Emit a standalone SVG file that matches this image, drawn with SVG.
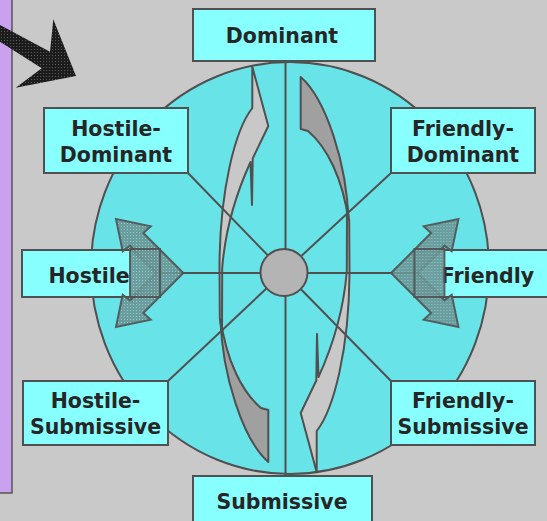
<svg xmlns="http://www.w3.org/2000/svg" xmlns:xlink="http://www.w3.org/1999/xlink" width="547" height="521" viewBox="0 0 547 521">
<style>
.box{fill:#88FFFF;stroke:#505050;stroke-width:2}
.lbl{font-family:"DejaVu Sans",Verdana,sans-serif;font-weight:bold;font-size:20.5px;fill:#262626;text-anchor:middle}
.ln{stroke:#505050;stroke-width:2;fill:none}
.dark{fill:#A0A0A0;stroke:#505050;stroke-width:2;stroke-linejoin:round}
.light{fill:#C8C8C8;stroke:#505050;stroke-width:2;stroke-linejoin:round}
.chev{fill:url(#hatch);stroke:#505050;stroke-width:2;stroke-linejoin:miter;opacity:0.9}
</style>
<defs>
<pattern id="dots" width="3" height="3" patternUnits="userSpaceOnUse"><rect width="3" height="3" fill="#1c1c1c"/><rect x="1" y="1" width="1" height="1" fill="#5a5a5a"/></pattern>
<pattern id="hatch" width="3" height="3" patternUnits="userSpaceOnUse"><rect width="3" height="3" fill="#6a9696"/><rect x="1" y="1" width="1" height="1" fill="#9cc2c2"/></pattern>
<g id="cyc">
<path class="dark" d="M 220.5,318 C 222,375 243,440 268.3,462 L 268.3,410 L 261,408 C 242,392 226,360 220.5,318 Z"/>
<path class="light" d="M 252.3,66.7 L 268.3,126 L 252.7,158.5 L 252,205 L 250.5,162 C 240,185 226,220 222.2,268 L 222,335 L 219.8,318 L 219.5,265 C 220,190 235,130 252.3,108 Z"/>
</g>
<g id="chevH">
<polygon class="chev" points="183.3,273 143.3,233 150.7,226.3 116,219 122.7,251.3 130,245.7 157.3,273 130,300.3 122.7,294.7 116,327 150.7,319.7 143.3,313"/>
<rect class="chev" x="130" y="249" width="30" height="48"/>
</g>
</defs>
<rect width="547" height="521" fill="#C9C9C9"/>
<rect x="-2" y="-2" width="14" height="495" fill="#C9A1EF" stroke="#555" stroke-width="1.5"/>
<polygon id="pointer" points="0,25 50,51.7 53.3,19.3 76,76 15.7,87.7 41.7,68.3 0,41.7" fill="url(#dots)"/>
<ellipse id="wheel" cx="290" cy="268" rx="199" ry="206" fill="#68E4E8" stroke="#505050" stroke-width="2"/>
<g id="cycle-arrows">
<use href="#cyc"/>
<use href="#cyc" transform="rotate(180 284.5 269.5)"/>
</g>
<g id="connectors">
<line class="ln" x1="285.5" y1="61" x2="285.5" y2="476"/>
<line class="ln" x1="160" y1="273" x2="418" y2="273"/>
<line class="ln" x1="188" y1="173" x2="284" y2="272"/>
<line class="ln" x1="391" y1="173" x2="284" y2="272"/>
<line class="ln" x1="168" y1="381" x2="284" y2="272"/>
<line class="ln" x1="391" y1="381" x2="284" y2="272"/>
</g>
<g id="center"><circle cx="284" cy="272.5" r="23.5" fill="#B4B4B4" stroke="#505050" stroke-width="2"/></g>
<g id="dominant"><rect class="box" x="193" y="9" width="182" height="52"/><text class="lbl" x="282" y="43">Dominant</text></g>
<g id="hostile-dominant"><rect class="box" x="44" y="108" width="144" height="65"/><text class="lbl" x="116" y="136">Hostile-</text><text class="lbl" x="116" y="162">Dominant</text></g>
<g id="friendly-dominant"><rect class="box" x="391" y="108" width="144" height="65"/><text class="lbl" x="463" y="136">Friendly-</text><text class="lbl" x="463" y="162">Dominant</text></g>
<g id="hostile-submissive"><rect class="box" x="23" y="381" width="145" height="64"/><text class="lbl" x="95.5" y="408">Hostile-</text><text class="lbl" x="95.5" y="433.5">Submissive</text></g>
<g id="friendly-submissive"><rect class="box" x="391" y="381" width="144" height="64"/><text class="lbl" x="463" y="408">Friendly-</text><text class="lbl" x="463" y="433.5">Submissive</text></g>
<g id="submissive"><rect class="box" x="193" y="476" width="179" height="50"/><text class="lbl" x="282" y="509">Submissive</text></g>
<g id="hostile"><polygon class="box" points="22,250 132,250 156,273 132,297 22,297"/><text class="lbl" x="89" y="282.5">Hostile</text></g>
<g id="friendly"><polygon class="box" points="550,250 442,250 418,273 442,297 550,297"/><text class="lbl" x="487.5" y="282.5">Friendly</text></g>
<g id="hostile-arrows"><use href="#chevH"/></g>
<g id="friendly-arrows"><use href="#chevH" transform="translate(574.4,0) scale(-1,1)"/></g>
</svg>
